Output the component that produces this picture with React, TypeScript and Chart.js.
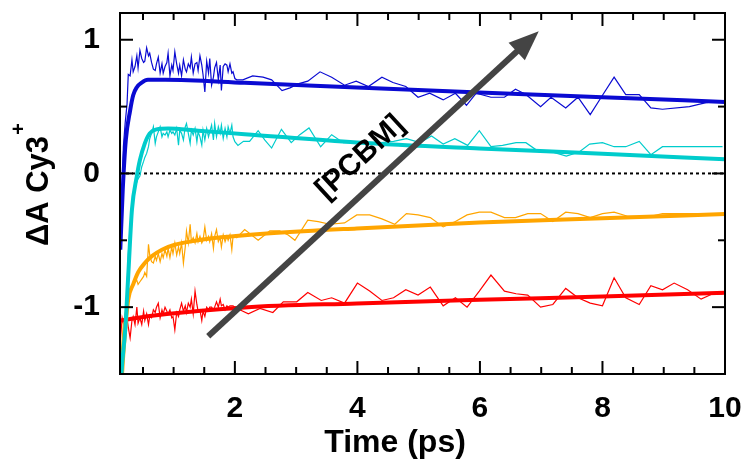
import React, { useEffect, useRef } from "react";
import { Chart, registerables } from "chart.js";
Chart.register(...registerables);

// ---- axes ----
const X_MIN = 0.125;
const X_MAX = 10;
const Y_MIN = -1.5;
const Y_MAX = 1.2;
const X_MAJOR = [2, 4, 6, 8, 10];
const X_MINOR = [0.5, 1, 1.5, 2.5, 3, 3.5, 4.5, 5, 5.5, 6.5, 7, 7.5, 8.5, 9, 9.5];
const Y_MAJOR = [-1, 0, 1];
const Y_MINOR = [-0.5, 0.5];
const X_TICK_LABELS = ["2", "4", "6", "8", "10"];
const Y_TICK_LABELS = ["-1", "0", "1"];
const X_TITLE = "Time (ps)";
const Y_TITLE = "\u0394A Cy3";
const Y_TITLE_SUP = "+";
const ARROW_LABEL = "[PCBM]";
const ARROW_FROM = [1.565, -1.218];
const ARROW_TO = [6.96, 1.064];
const LABEL_POS = [4.05, 0.12];

// ---- measured traces: shared time grids ----
const EARLY_T = [0.13, 0.16, 0.18];
const DENSE_T = [0.21, 0.24, 0.26, 0.29, 0.32, 0.34, 0.37, 0.40, 0.42,
  0.45, 0.48, 0.51, 0.53, 0.56, 0.59, 0.61, 0.64, 0.67, 0.70,
  0.72, 0.75, 0.78, 0.81, 0.83, 0.86, 0.89, 0.91, 0.94, 0.97,
  0.99, 1.02, 1.05, 1.08, 1.10, 1.13, 1.16, 1.19, 1.21, 1.24,
  1.27, 1.29, 1.32, 1.35, 1.38, 1.40, 1.43, 1.46, 1.48, 1.51,
  1.54, 1.57, 1.59, 1.62, 1.65, 1.67, 1.70, 1.73, 1.76, 1.78,
  1.81, 1.84, 1.87, 1.89, 1.92, 1.95, 1.97, 2.00];

// blue
const BLUE_EARLY = [-0.50, -0.10, 0.20];
const BLUE_DENSE = [0.38, 0.52, 0.74, 0.73, 0.85, 0.76, 0.80, 0.88, 0.79,
  0.92, 0.86, 0.83, 0.84, 0.94, 0.88, 0.90, 0.83, 0.78, 0.77,
  0.82, 0.87, 0.75, 0.82, 0.75, 0.80, 0.83, 0.90, 0.73, 0.81,
  0.77, 0.91, 0.82, 0.75, 0.81, 0.73, 0.85, 0.78, 0.76, 0.82,
  0.79, 0.87, 0.75, 0.82, 0.83, 0.77, 0.88, 0.81, 0.74, 0.61,
  0.84, 0.75, 0.86, 0.66, 0.72, 0.79, 0.83, 0.70, 0.81, 0.62,
  0.80, 0.82, 0.81, 0.76, 0.82, 0.75, 0.76, 0.71];
const BLUE_LATE_T = [2.03, 2.13, 2.29, 2.46, 2.60, 2.77, 2.90, 3.03, 3.19, 3.39,
  3.58, 3.79, 3.98, 4.18, 4.40, 4.58, 4.79, 4.99, 5.18, 5.40,
  5.60, 5.78, 5.94, 6.18, 6.40, 6.58, 6.75, 6.99, 7.16, 7.40,
  7.60, 7.80, 7.98, 8.19, 8.38, 8.60, 8.79, 8.98, 9.42, 9.69, 9.96];
const BLUE_LATE_V = [0.70, 0.70, 0.73, 0.72, 0.70, 0.62, 0.64, 0.67, 0.69, 0.76,
  0.72, 0.66, 0.69, 0.65, 0.72, 0.68, 0.65, 0.57, 0.60, 0.55,
  0.60, 0.51, 0.60, 0.57, 0.57, 0.63, 0.59, 0.50, 0.57, 0.49,
  0.57, 0.44, 0.57, 0.72, 0.59, 0.59, 0.49, 0.48, 0.50, 0.53, 0.54];
const BLUE_FIT_T = [0.13, 0.17, 0.22, 0.29, 0.34, 0.40, 0.48, 0.58, 0.86, 2.16, 3.99, 5.99, 8.00, 10.0];
const BLUE_FIT_V = [-0.57, -0.12, 0.25, 0.47, 0.585, 0.645, 0.68, 0.70, 0.70, 0.678, 0.642, 0.605, 0.57, 0.535];

// cyan
const CYAN_EARLY = [-1.6, -1.5, -1.35];
const CYAN_DENSE = [-1.20, -0.85, -0.60, -0.40, -0.28, -0.18, -0.12, -0.06, -0.04,
  -0.02, 0.05, 0.09, 0.12, 0.15, 0.20, 0.26, 0.30, 0.35, 0.225,
  0.274, 0.311, 0.349, 0.274, 0.30, 0.287, 0.311, 0.274, 0.324, 0.30,
  0.311, 0.287, 0.337, 0.212, 0.324, 0.30, 0.250, 0.349, 0.374, 0.30,
  0.225, 0.324, 0.287, 0.337, 0.237, 0.311, 0.274, 0.212, 0.324, 0.250,
  0.337, 0.274, 0.311, 0.361, 0.250, 0.374, 0.274, 0.349, 0.30, 0.361,
  0.262, 0.337, 0.274, 0.349, 0.30, 0.361, 0.274, 0.237];
const CYAN_LATE_T = [2.05, 2.14, 2.24, 2.38, 2.49, 2.60, 2.76, 2.92, 3.06, 3.21,
  3.40, 3.58, 3.77, 4.01, 4.20, 4.39, 4.59, 4.80, 5.02, 5.21,
  5.40, 5.59, 5.80, 5.99, 6.18, 6.37, 6.59, 6.75, 6.97, 7.19,
  7.41, 7.62, 7.79, 8.00, 8.19, 8.38, 8.60, 8.79, 8.98, 9.42, 9.96];
const CYAN_LATE_V = [0.21, 0.24, 0.24, 0.32, 0.25, 0.19, 0.33, 0.23, 0.29, 0.34,
  0.20, 0.29, 0.23, 0.23, 0.22, 0.23, 0.24, 0.26, 0.23, 0.28,
  0.22, 0.26, 0.21, 0.32, 0.20, 0.21, 0.23, 0.23, 0.16, 0.16,
  0.13, 0.16, 0.22, 0.23, 0.20, 0.20, 0.24, 0.14, 0.20, 0.20, 0.20];
const CYAN_FIT_T = [0.13, 0.15, 0.21, 0.26, 0.32, 0.40, 0.45, 0.53, 0.61, 0.72, 0.91, 1.40, 2.16, 3.99, 5.99, 8.00, 10.0];
const CYAN_FIT_V = [-1.7, -1.49, -1.17, -0.76, -0.27, -0.02, 0.10, 0.225, 0.30, 0.33, 0.337, 0.32, 0.294, 0.231, 0.186, 0.148, 0.106];

// orange
const ORANGE_EARLY = [-1.45, -1.25, -1.12];
const ORANGE_DENSE = [-1.05, -0.98, -0.92, -0.88, -0.84, -0.82, -0.81, -0.80, -0.83,
  -0.81, -0.79, -0.77, -0.74, -0.77, -0.53, -0.61, -0.66, -0.67, -0.62,
  -0.65, -0.60, -0.66, -0.60, -0.63, -0.57, -0.62, -0.56, -0.63, -0.55,
  -0.60, -0.52, -0.61, -0.55, -0.60, -0.52, -0.67, -0.55, -0.43, -0.52,
  -0.38, -0.51, -0.48, -0.52, -0.45, -0.51, -0.47, -0.52, -0.50, -0.40,
  -0.50, -0.47, -0.51, -0.45, -0.56, -0.47, -0.42, -0.51, -0.48, -0.55,
  -0.46, -0.51, -0.47, -0.50, -0.46, -0.57, -0.47, -0.47];
const ORANGE_LATE_T = [2.03, 2.16, 2.38, 2.57, 2.73, 2.87, 2.98, 3.19, 3.36, 3.55,
  3.79, 3.99, 4.20, 4.40, 4.61, 4.80, 4.99, 5.19, 5.40, 5.60,
  5.79, 5.99, 6.18, 6.40, 6.58, 6.78, 6.99, 7.19, 7.40, 7.60,
  7.80, 8.00, 8.19, 8.41, 8.60, 8.79, 8.98, 9.42, 9.96];
const ORANGE_LATE_V = [-0.48, -0.42, -0.50, -0.43, -0.43, -0.46, -0.50, -0.35, -0.36, -0.38,
  -0.37, -0.31, -0.31, -0.34, -0.38, -0.30, -0.31, -0.33, -0.40, -0.36,
  -0.31, -0.29, -0.29, -0.33, -0.33, -0.30, -0.30, -0.36, -0.29, -0.30,
  -0.33, -0.30, -0.29, -0.32, -0.32, -0.32, -0.30, -0.30, -0.30];
const ORANGE_FIT_T = [0.14, 0.16, 0.21, 0.26, 0.34, 0.42, 0.53, 0.64, 0.81, 1.02, 1.29, 1.67, 2.16, 3.99, 5.99, 8.00, 10.0];
const ORANGE_FIT_V = [-1.7, -1.49, -1.17, -0.94, -0.83, -0.74, -0.67, -0.62, -0.57, -0.533, -0.508, -0.483, -0.462, -0.411, -0.367, -0.335, -0.304];

// red
const RED_EARLY = [-1.25, -1.08, -1.12];
const RED_DENSE = [-1.10, -1.08, -1.15, -1.23, -1.10, -1.07, -1.13, -1.00, -1.12,
  -1.08, -1.13, -1.03, -1.10, -1.05, -1.13, -1.07, -1.08, -1.02, -1.04,
  -1.00, -0.97, -1.08, -1.02, -1.05, -1.00, -1.03, -1.05, -1.02, -1.08,
  -1.07, -1.17, -1.04, -1.07, -1.02, -0.97, -1.03, -0.99, -1.04, -0.97,
  -1.00, -0.94, -1.05, -0.88, -0.98, -1.03, -1.02, -1.10, -1.03, -1.07,
  -1.00, -1.02, -1.00, -1.00, -1.02, -1.00, -0.96, -1.00, -0.94, -0.99,
  -0.98, -1.02, -0.99, -1.00, -0.99, -0.99, -0.99, -1.00];
const RED_LATE_T = [2.08, 2.22, 2.41, 2.62, 2.79, 3.01, 3.19, 3.41, 3.58, 3.79,
  4.00, 4.20, 4.40, 4.59, 4.79, 4.99, 5.19, 5.40, 5.60, 5.79,
  5.99, 6.18, 6.40, 6.59, 6.78, 6.99, 7.19, 7.40, 7.60, 7.80,
  8.00, 8.19, 8.38, 8.60, 8.79, 8.98, 9.17, 9.39, 9.61, 9.80, 9.96];
const RED_LATE_V = [-1.02, -1.05, -1.01, -1.04, -0.96, -0.96, -0.89, -0.95, -0.93, -0.97,
  -0.82, -0.88, -0.95, -0.93, -0.87, -0.91, -0.85, -0.99, -0.93, -1.00,
  -0.88, -0.76, -0.88, -0.90, -0.91, -1.00, -0.98, -0.86, -0.93, -0.97,
  -0.99, -0.78, -0.93, -0.98, -0.84, -0.87, -0.82, -0.87, -0.94, -0.90, -0.90];
const RED_FIT_T = [0.13, 0.61, 2.16, 3.99, 5.99, 8.00, 10.0];
const RED_FIT_V = [-1.10, -1.066, -1.002, -0.972, -0.945, -0.92, -0.893];

// ---- style ----
const BLUE = "#0a0ad2";
const CYAN = "#00cccc";
const ORANGE = "#ffa500";
const RED = "#ff0000";
const ARROW_COLOR = "#444444";
const FONT_FAMILY = "'Liberation Sans', Arial, Helvetica, sans-serif";
const TICK_FONT_SIZE = 30;
const TITLE_FONT_SIZE = 32;

const pts = (ts: number[], vs: number[]) => ts.map((t, i) => ({ x: t, y: vs[i] }));
const thin = (early: number[], dense: number[], lateT: number[], lateV: number[]) => [
  ...pts(EARLY_T, early),
  ...pts(DENSE_T, dense),
  ...pts(lateT, lateV),
];

const decorPlugin = {
  id: "decor",
  afterDatasetsDraw(chart: any) {
    const { ctx, scales } = chart;
    const xs = scales.x;
    const ys = scales.y;
    ctx.save();
    // arrow
    const x0 = xs.getPixelForValue(ARROW_FROM[0]);
    const y0 = ys.getPixelForValue(ARROW_FROM[1]);
    const x1 = xs.getPixelForValue(ARROW_TO[0]);
    const y1 = ys.getPixelForValue(ARROW_TO[1]);
    const ang = Math.atan2(y1 - y0, x1 - x0);
    const headLen = 30;
    const headW = 12;
    const bx = x1 - headLen * Math.cos(ang);
    const by = y1 - headLen * Math.sin(ang);
    ctx.strokeStyle = ARROW_COLOR;
    ctx.fillStyle = ARROW_COLOR;
    ctx.lineWidth = 6;
    ctx.lineCap = "butt";
    ctx.beginPath();
    ctx.moveTo(x0, y0);
    ctx.lineTo(bx + 2 * Math.cos(ang), by + 2 * Math.sin(ang));
    ctx.stroke();
    ctx.beginPath();
    ctx.moveTo(x1, y1);
    ctx.lineTo(bx + headW * Math.sin(ang), by - headW * Math.cos(ang));
    ctx.lineTo(bx - headW * Math.sin(ang), by + headW * Math.cos(ang));
    ctx.closePath();
    ctx.fill();
    // label
    const lx = xs.getPixelForValue(LABEL_POS[0]);
    const ly = ys.getPixelForValue(LABEL_POS[1]);
    ctx.translate(lx, ly);
    ctx.rotate(ang);
    ctx.fillStyle = "#000";
    ctx.font = `bold ${TICK_FONT_SIZE}px ${FONT_FAMILY}`;
    ctx.textAlign = "center";
    ctx.textBaseline = "middle";
    ctx.fillText(ARROW_LABEL, 0, 0);
    ctx.restore();
  },
  afterDraw(chart: any) {
    const { ctx, chartArea: a, scales } = chart;
    const xs = scales.x;
    const ys = scales.y;
    ctx.save();
    ctx.strokeStyle = "#000";
    ctx.lineWidth = 2;
    ctx.lineCap = "butt";
    ctx.strokeRect(a.left, a.top, a.right - a.left, a.bottom - a.top);
    const tick = (x0: number, y0: number, x1: number, y1: number) => {
      ctx.beginPath();
      ctx.moveTo(x0, y0);
      ctx.lineTo(x1, y1);
      ctx.stroke();
    };
    const MAJ = 13;
    const MIN = 7;
    X_MAJOR.forEach((v) => {
      const p = xs.getPixelForValue(v);
      tick(p, a.bottom, p, a.bottom - MAJ);
      tick(p, a.top, p, a.top + MAJ);
    });
    X_MINOR.forEach((v) => {
      const p = xs.getPixelForValue(v);
      tick(p, a.bottom, p, a.bottom - MIN);
      tick(p, a.top, p, a.top + MIN);
    });
    Y_MAJOR.forEach((v) => {
      const p = ys.getPixelForValue(v);
      tick(a.left, p, a.left + MAJ, p);
      tick(a.right, p, a.right - MAJ, p);
    });
    Y_MINOR.forEach((v) => {
      const p = ys.getPixelForValue(v);
      tick(a.left, p, a.left + MIN, p);
      tick(a.right, p, a.right - MIN, p);
    });
    // titles
    ctx.fillStyle = "#000";
    ctx.font = `bold ${TITLE_FONT_SIZE}px ${FONT_FAMILY}`;
    ctx.textAlign = "center";
    ctx.textBaseline = "alphabetic";
    ctx.fillText(X_TITLE, 395, 452);
    ctx.translate(48, 191);
    ctx.rotate(-Math.PI / 2);
    ctx.font = `bold ${TITLE_FONT_SIZE - 1}px ${FONT_FAMILY}`;
    ctx.fillText(Y_TITLE, 0, 0);
    const w = ctx.measureText(Y_TITLE).width;
    ctx.font = `bold 20px ${FONT_FAMILY}`;
    ctx.textBaseline = "middle";
    ctx.fillText(Y_TITLE_SUP, w / 2 + 7, -29);
    ctx.restore();
  },
};

export default function App() {
  const ref = useRef<HTMLCanvasElement>(null);
  useEffect(() => {
    const tickFont = { family: FONT_FAMILY, size: TICK_FONT_SIZE, weight: "bold" as const };
    const thinDs = (data: any[], color: string) => ({
      data, borderColor: color, borderWidth: 1.2, pointRadius: 0, tension: 0, order: 2, fill: false,
    });
    const fitDs = (data: any[], color: string) => ({
      data, borderColor: color, borderWidth: 4, pointRadius: 0, cubicInterpolationMode: "monotone" as const,
      order: 1, fill: false,
    });
    const chart = new Chart(ref.current!, {
      type: "line",
      data: {
        datasets: [
          {
            data: [{ x: X_MIN, y: 0 }, { x: X_MAX, y: 0 }],
            borderColor: "#000", borderWidth: 2, borderDash: [3, 3], pointRadius: 0, order: 3,
          },
          thinDs(thin(BLUE_EARLY, BLUE_DENSE, BLUE_LATE_T, BLUE_LATE_V), BLUE),
          thinDs(thin(CYAN_EARLY, CYAN_DENSE, CYAN_LATE_T, CYAN_LATE_V), CYAN),
          thinDs(thin(ORANGE_EARLY, ORANGE_DENSE, ORANGE_LATE_T, ORANGE_LATE_V), ORANGE),
          thinDs(thin(RED_EARLY, RED_DENSE, RED_LATE_T, RED_LATE_V), RED),
          fitDs(pts(BLUE_FIT_T, BLUE_FIT_V), BLUE),
          fitDs(pts(CYAN_FIT_T, CYAN_FIT_V), CYAN),
          fitDs(pts(ORANGE_FIT_T, ORANGE_FIT_V), ORANGE),
          fitDs(pts(RED_FIT_T, RED_FIT_V), RED),
        ] as any,
      },
      options: {
        animation: false,
        responsive: false,
        devicePixelRatio: 1,
        layout: { padding: { top: 13, right: 19, left: 0, bottom: 0 } },
        plugins: { legend: { display: false }, tooltip: { enabled: false } },
        scales: {
          x: {
            type: "linear",
            min: X_MIN,
            max: X_MAX,
            grid: { display: false },
            border: { display: false },
            afterBuildTicks: (s: any) => { s.ticks = X_MAJOR.map((v) => ({ value: v })); },
            afterFit: (s: any) => { s.height = 91; s.paddingLeft = 0; s.paddingRight = 0; },
            ticks: {
              callback: (v: any) => X_TICK_LABELS[X_MAJOR.indexOf(Number(v))],
              font: tickFont, color: "#000", padding: 9, maxRotation: 0, autoSkip: false,
            },
          },
          y: {
            type: "linear",
            min: Y_MIN,
            max: Y_MAX,
            grid: { display: false },
            border: { display: false },
            afterBuildTicks: (s: any) => { s.ticks = Y_MAJOR.map((v) => ({ value: v })); },
            afterFit: (s: any) => { s.width = 120; s.paddingTop = 0; s.paddingBottom = 0; },
            ticks: {
              callback: (v: any) => Y_TICK_LABELS[Y_MAJOR.indexOf(Number(v))],
              font: tickFont, color: "#000", padding: 12, autoSkip: false,
            },
          },
        },
      } as any,
      plugins: [decorPlugin],
    });
    return () => chart.destroy();
  }, []);
  return (
    <div style={{ position: "fixed", left: 0, top: 0, width: 744, height: 465, background: "#fff" }}>
      <canvas ref={ref} width={744} height={465} style={{ width: 744, height: 465, display: "block" }} />
    </div>
  );
}
